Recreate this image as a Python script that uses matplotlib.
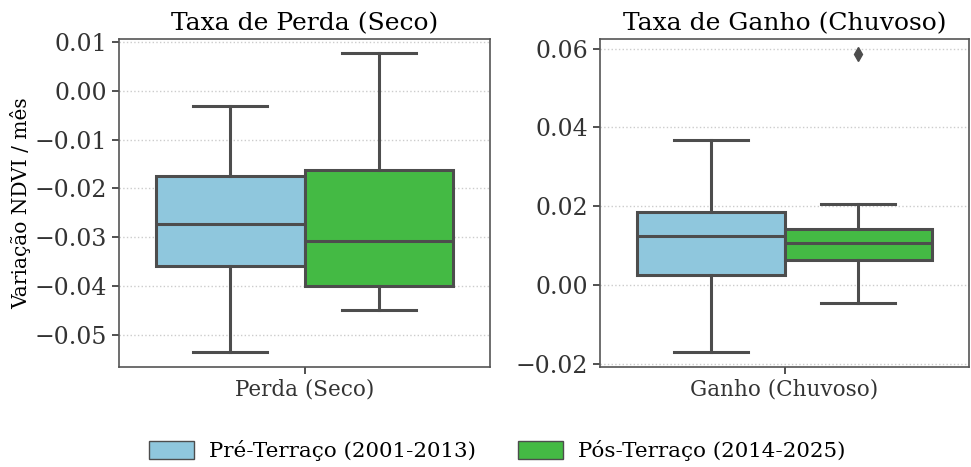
import matplotlib
matplotlib.use("Agg")
import matplotlib.pyplot as plt
from matplotlib.patches import Patch

plt.rcParams.update({
    "font.family": "DejaVu Serif",
    "axes.edgecolor": "#555555",
    "axes.linewidth": 1.2,
    "xtick.color": "#333333",
    "ytick.color": "#333333",
})

# Estatísticas dos boxplots (whislo, q1, mediana, q3, whishi)
periodos = ["Pré-Terraço (2001-2013)", "Pós-Terraço (2014-2025)"]
cores = ["#8FC7DD", "#44BA44"]

perda_pre = [-0.0535, -0.0359, -0.0273, -0.01755, -0.0031]
perda_pos = [-0.0449, -0.0400, -0.0308, -0.0163, 0.0076]
ganho_pre = [-0.0170, 0.0025, 0.0125, 0.0186, 0.0369]
ganho_pos = [-0.0046, 0.0064, 0.0107, 0.0142, 0.0206]
ganho_pos_outliers = [0.0587]

perda_ticks = [0.01, 0.0, -0.01, -0.02, -0.03, -0.04, -0.05]
ganho_ticks = [0.06, 0.04, 0.02, 0.0, -0.02]

paineis = [
    ("Taxa de Perda (Seco)", "Perda (Seco)", [perda_pre, perda_pos],
     [[], []], perda_ticks, (-0.0565, 0.0106)),
    ("Taxa de Ganho (Chuvoso)", "Ganho (Chuvoso)", [ganho_pre, ganho_pos],
     [[], ganho_pos_outliers], ganho_ticks, (-0.0208, 0.0625)),
]


def to_stats(vals, fliers):
    lo, q1, med, q3, hi = vals
    return dict(whislo=lo, q1=q1, med=med, q3=q3, whishi=hi, fliers=fliers)


fig = plt.figure(figsize=(9.71, 4.67), dpi=100)
axes = [fig.add_axes([0.1226, 0.214, 0.382, 0.703]),
        fig.add_axes([0.618, 0.214, 0.380, 0.703])]

linha = "#4d4d4d"
for ax, (titulo, rotulo, caixas, fliers, ticks, ylim) in zip(axes, paineis):
    stats = [to_stats(v, f) for v, f in zip(caixas, fliers)]
    bp = ax.bxp(stats, positions=[-0.2, 0.2], widths=0.4, patch_artist=True,
                boxprops=dict(edgecolor=linha, linewidth=2.2),
                medianprops=dict(color=linha, linewidth=2.2),
                whiskerprops=dict(color=linha, linewidth=2.2),
                capprops=dict(color=linha, linewidth=2.2),
                flierprops=dict(marker="d", markerfacecolor=linha,
                                markeredgecolor=linha, markersize=7))
    for patch, c in zip(bp["boxes"], cores):
        patch.set_facecolor(c)
    ax.set_xlim(-0.5, 0.5)
    ax.set_ylim(*ylim)
    ax.set_xticks([0])
    ax.set_xticklabels([rotulo], fontsize=15.5)
    ax.set_yticks(ticks)
    ax.set_yticklabels([f"{t:.2f}".replace("-", "\u2212") for t in ticks], fontsize=17)
    ax.yaxis.grid(True, linestyle=":", color="#cccccc", linewidth=1)
    ax.set_axisbelow(True)
    ax.set_title(titulo, fontsize=18)
    ax.tick_params(length=5, width=1.2)

axes[0].set_ylabel("Variação NDVI / mês", fontsize=14.5, labelpad=2.5)

handles = [Patch(facecolor=c, edgecolor=linha, label=p) for c, p in zip(cores, periodos)]
fig.legend(handles=handles, loc="center", bbox_to_anchor=(0.512, 0.035), ncol=2,
           frameon=False, handlelength=2.1, handleheight=0.9, handletextpad=0.7,
           columnspacing=2.0, fontsize=15.4)

fig.savefig("out.png", dpi=100)
